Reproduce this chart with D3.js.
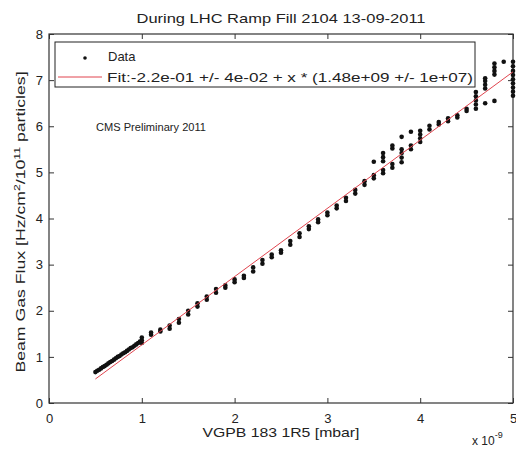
<!DOCTYPE html>
<html>
<head>
<meta charset="utf-8">
<script src="https://cdn.jsdelivr.net/npm/d3@7"></script>
<style>
  body { margin: 0; background: #fff; }
  svg { display: block; font-family: "Liberation Sans", Arial, sans-serif; }
  .axis path { display: none; }
  .axis line { stroke: #333; stroke-width: 1; }
  .axis text { fill: #222; font-size: 13px; }
</style>
</head>
<body>
<svg id="chart" width="516" height="449"></svg>
<script>
/********/
/* data */
/********/

// pressure in units of 1e-9 mbar, flux in Hz/cm2/1e11 particles
const xTicks = [0, 1, 2, 3, 4, 5];
const yTicks = [0, 1, 2, 3, 4, 5, 6, 7, 8];

// slow part of the ramp, nearly continuous readings
const rampX = [0.50, 0.52, 0.54, 0.56, 0.58, 0.60, 0.62, 0.64, 0.66, 0.68,
  0.70, 0.72, 0.74, 0.76, 0.78, 0.80, 0.82, 0.84, 0.86, 0.88, 0.90, 0.92,
  0.94, 0.96, 0.98, 1.00, 1.00, 1.00];
const rampY = [0.67, 0.70, 0.72, 0.75, 0.78, 0.80, 0.83, 0.86, 0.89, 0.91,
  0.94, 0.97, 1.00, 1.02, 1.05, 1.08, 1.10, 1.13, 1.16, 1.19, 1.21, 1.24,
  1.27, 1.30, 1.33, 1.30, 1.36, 1.42];

// later part: gauge reads in steps of 0.1, several flux readings per step
const stepX = [1.1, 1.2, 1.3, 1.4, 1.5, 1.6, 1.7, 1.8, 1.9, 2.0,
  2.1, 2.2, 2.3, 2.4, 2.5, 2.6, 2.7, 2.8, 2.9, 3.0,
  3.1, 3.2, 3.3, 3.4, 3.5, 3.6, 3.7, 3.8, 3.9, 4.0,
  4.1, 4.2, 4.3, 4.4, 4.5, 4.6, 4.7, 4.8, 4.9, 5.0];
const stepY = [
  [1.48, 1.53], [1.55, 1.59], [1.61, 1.68], [1.74, 1.82], [1.92, 2.00],
  [2.09, 2.16], [2.24, 2.31], [2.39, 2.47], [2.50, 2.55], [2.62, 2.68],
  [2.71, 2.76], [2.85, 2.94], [3.02, 3.10], [3.16, 3.22], [3.26, 3.31],
  [3.43, 3.51], [3.60, 3.68], [3.77, 3.83], [3.92, 3.98], [4.07, 4.13],
  [4.22, 4.28], [4.38, 4.45], [4.54, 4.62], [4.73, 4.81], [4.87, 4.94, 5.23],
  [4.98, 5.05, 5.24, 5.33, 5.42], [5.10, 5.18, 5.52, 5.58],
  [5.22, 5.32, 5.42, 5.50, 5.77], [5.50, 5.58, 5.88],
  [5.66, 5.74, 5.82, 5.90], [5.93, 6.01], [6.04, 6.09], [6.11, 6.17],
  [6.19, 6.24], [6.33, 6.38], [6.38, 6.47, 6.56, 6.65, 6.74],
  [6.50, 6.82, 6.90, 6.98, 7.04], [6.55, 7.12, 7.20, 7.28, 7.36], [7.40],
  [6.66, 6.75, 6.84, 6.93, 7.02, 7.11, 7.20, 7.30, 7.40],
];

// linear fit: y = a + b * x (x in mbar)
const fitA = -0.22;
const fitB = 1.48; // per 1e-9 mbar
const fitRange = [0.5, 5.0];

const titleText = "During LHC Ramp Fill 2104 13-09-2011";
const xLabelText = "VGPB 183 1R5 [mbar]";
const fitLabel = "Fit:-2.2e-01 +/- 4e-02 + x * (1.48e+09 +/- 1e+07)";

/********/
/* view */
/********/

const svg = d3.select("#chart");
const box = { left: 49, right: 513, top: 34, bottom: 403 };

const x = d3.scaleLinear().domain([0, 5]).range([box.left, box.right]);
const y = d3.scaleLinear().domain([0, 8]).range([box.bottom, box.top]);

const points = rampX.map((v, i) => ({ x: v, y: rampY[i] }));
stepX.forEach((v, i) => {
  stepY[i].forEach(f => points.push({ x: v, y: f }));
});

// axes, ticks pointing inwards on all four sides
svg.append("g")
  .attr("class", "axis")
  .attr("transform", `translate(0,${box.bottom})`)
  .call(d3.axisBottom(x).tickValues(xTicks).tickSize(-5).tickPadding(6)
    .tickFormat(d3.format("d")))
  .selectAll("text").attr("dy", "1.05em");

svg.append("g")
  .attr("class", "axis")
  .attr("transform", `translate(0,${box.top})`)
  .call(d3.axisTop(x).tickValues(xTicks).tickSize(-5).tickFormat(""));

svg.append("g")
  .attr("class", "axis")
  .attr("transform", `translate(${box.left},0)`)
  .call(d3.axisLeft(y).tickValues(yTicks).tickSize(-5).tickPadding(6)
    .tickFormat(d3.format("d")));

svg.append("g")
  .attr("class", "axis")
  .attr("transform", `translate(${box.right},0)`)
  .call(d3.axisRight(y).tickValues(yTicks).tickSize(-5).tickFormat(""));

svg.append("rect")
  .attr("x", box.left)
  .attr("y", box.top)
  .attr("width", box.right - box.left)
  .attr("height", box.bottom - box.top)
  .attr("fill", "none")
  .attr("stroke", "#333")
  .attr("stroke-width", 1.2);

// data points
svg.append("g")
  .selectAll("circle")
  .data(points)
  .enter()
  .append("circle")
  .attr("cx", d => x(d.x))
  .attr("cy", d => y(d.y))
  .attr("r", 2.3)
  .attr("fill", "#111");

// fit line
svg.append("line")
  .attr("x1", x(fitRange[0]))
  .attr("y1", y(fitA + fitB * fitRange[0]))
  .attr("x2", x(fitRange[1]))
  .attr("y2", y(fitA + fitB * fitRange[1]))
  .attr("stroke", "#e0454f")
  .attr("stroke-width", 1);

// legend
const legend = svg.append("g");
legend.append("rect")
  .attr("x", 55)
  .attr("y", 42)
  .attr("width", 420)
  .attr("height", 45)
  .attr("fill", "#fff")
  .attr("stroke", "#222")
  .attr("stroke-width", 1);
legend.append("circle")
  .attr("cx", 85)
  .attr("cy", 58)
  .attr("r", 1.8)
  .attr("fill", "#111");
legend.append("text")
  .attr("x", 108)
  .attr("y", 61)
  .attr("font-size", 13)
  .attr("fill", "#222")
  .text("Data");
legend.append("line")
  .attr("x1", 58)
  .attr("x2", 102)
  .attr("y1", 77)
  .attr("y2", 77)
  .attr("stroke", "#e0454f")
  .attr("stroke-width", 1);
legend.append("text")
  .attr("x", 107)
  .attr("y", 82)
  .attr("font-size", 13)
  .attr("fill", "#222")
  .attr("textLength", 366)
  .attr("lengthAdjust", "spacingAndGlyphs")
  .text(fitLabel);

svg.append("text")
  .attr("x", 96)
  .attr("y", 131)
  .attr("font-size", 11)
  .attr("fill", "#222")
  .attr("textLength", 110)
  .attr("lengthAdjust", "spacingAndGlyphs")
  .text("CMS Preliminary 2011");

// titles
svg.append("text")
  .attr("x", (box.left + box.right) / 2)
  .attr("y", 23)
  .attr("text-anchor", "middle")
  .attr("font-size", 13)
  .attr("fill", "#222")
  .attr("textLength", 289)
  .attr("lengthAdjust", "spacingAndGlyphs")
  .text(titleText);

svg.append("text")
  .attr("x", (box.left + box.right) / 2)
  .attr("y", 437)
  .attr("text-anchor", "middle")
  .attr("font-size", 13)
  .attr("fill", "#222")
  .attr("textLength", 157)
  .attr("lengthAdjust", "spacingAndGlyphs")
  .text(xLabelText);

const mult = svg.append("text")
  .attr("x", 472)
  .attr("y", 445)
  .attr("font-size", 12)
  .attr("fill", "#222");
mult.append("tspan").text("x 10");
mult.append("tspan").attr("dy", -7).attr("font-size", 9).text("-9");

// rotated label, stretched along its length like the original
const yLabel = svg.append("text")
  .attr("transform", `translate(25,222) rotate(-90) scale(1.36,1)`)
  .attr("text-anchor", "middle")
  .attr("font-size", 13)
  .attr("fill", "#222");
yLabel.append("tspan").text("Beam Gas Flux [Hz/cm");
yLabel.append("tspan").attr("dy", -5).attr("font-size", 9).text("2");
yLabel.append("tspan").attr("dy", 5).text("/10");
yLabel.append("tspan").attr("dy", -5).attr("font-size", 9).text("11");
yLabel.append("tspan").attr("dy", 5).text(" particles]");
</script>
</body>
</html>
